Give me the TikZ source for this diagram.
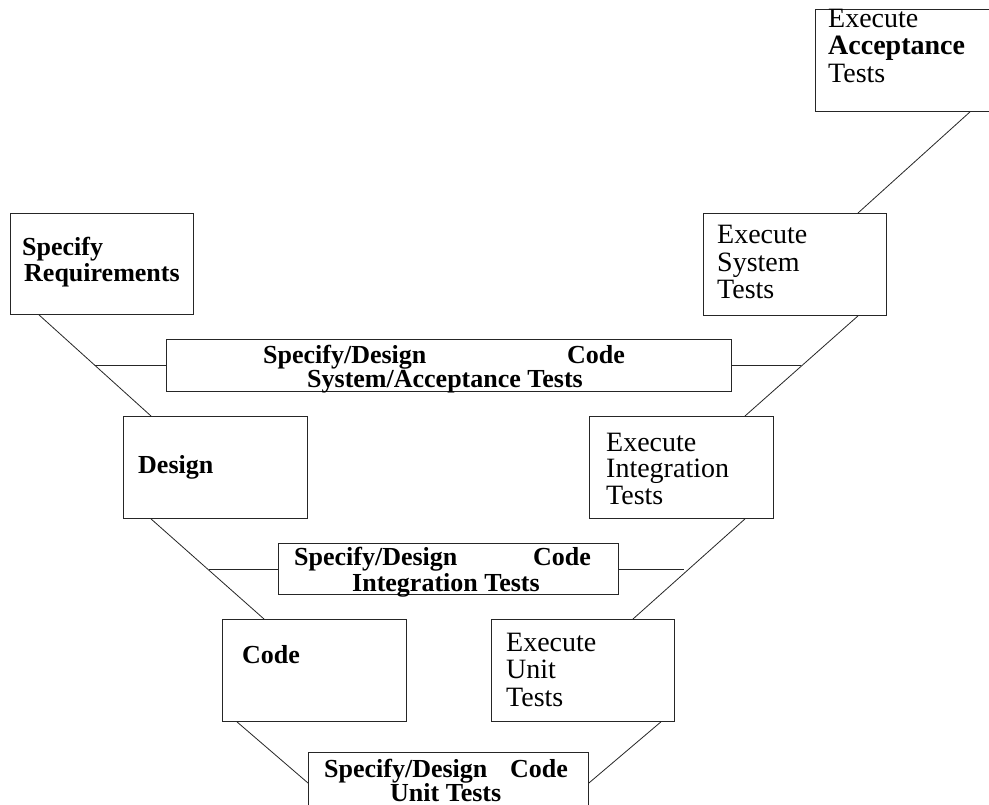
\documentclass[tikz,border=0pt]{standalone}
\usepackage{fontspec}
\setmainfont{Liberation Serif}
\begin{document}
\begin{tikzpicture}[x=1pt,y=-1pt,
  box/.style={draw=black!85,line width=0.9pt,inner sep=0pt,anchor=north west},
  conn/.style={draw=black!85,line width=0.8pt},
  lbl/.style={anchor=base west,inner sep=0pt,font=\fontsize{28}{29}\selectfont},
  blbl/.style={anchor=base west,inner sep=0pt,font=\fontsize{26}{27}\selectfont\bfseries},
  bxl/.style={anchor=base west,inner sep=0pt,font=\fontsize{28}{29}\selectfont\bfseries}]
\useasboundingbox (0,0) rectangle (989,805);
\clip (0,0) rectangle (989,805);
\fill[white] (0,0) rectangle (989,805);
% boxes
\node[box,minimum width=183pt,minimum height=101pt] (req) at (10,213) {};
\node[box,minimum width=565pt,minimum height=52pt] (sysacc) at (166,339) {};
\node[box,minimum width=184pt,minimum height=102pt] (design) at (123,416) {};
\node[box,minimum width=340pt,minimum height=51pt] (inttest) at (278,543) {};
\node[box,minimum width=184pt,minimum height=102pt] (code) at (222,619) {};
\node[box,minimum width=280pt,minimum height=80pt] (unittest) at (308,752) {};
\node[box,minimum width=183pt,minimum height=102pt] (exunit) at (491,619) {};
\node[box,minimum width=184pt,minimum height=102pt] (exint) at (589,416) {};
\node[box,minimum width=183pt,minimum height=102pt] (exsys) at (703,213) {};
\node[box,minimum width=190pt,minimum height=102pt] (exacc) at (815,9) {};
% texts
\node[blbl] (t1) at (22,256) {Specify};
\node[blbl] (t2) at (24,282) {Requirements};
\node[blbl] (t3) at (263,363) {Specify/Design};
\node[blbl] (t4) at (567,363) {Code};
\node[blbl] (t5) at (307,388) {System/Acceptance Tests};
\node[blbl] (t6) at (138,473) {Design};
\node[lbl] (t7) at (606,451) {Execute};
\node[lbl] (t8) at (606,477) {Integration};
\node[lbl] (t9) at (606,504) {Tests};
\node[blbl] (t10) at (294,565) {Specify/Design};
\node[blbl] (t11) at (533,565) {Code};
\node[blbl] (t12) at (352,591) {Integration Tests};
\node[blbl] (t13) at (242,663) {Code};
\node[lbl] (t14) at (506,651) {Execute};
\node[lbl] (t15) at (506,678) {Unit};
\node[lbl] (t16) at (506,706) {Tests};
\node[blbl] (t17) at (324,777) {Specify/Design};
\node[blbl] (t18) at (510,777) {Code};
\node[blbl] (t19) at (390,801) {Unit Tests};
\node[lbl] (t20) at (717,244) {Execute};
\node[lbl] (t21) at (717,272) {System};
\node[lbl] (t22) at (717,299) {Tests};
\node[lbl] (t23) at (828,28) {Execute};
\node[bxl] (t24) at (828,55) {Acceptance};
\node[lbl] (t25) at (828,83) {Tests};
% connector points
\coordinate (h1) at (95,364);
\coordinate (h2) at (209,569);
\coordinate (h3) at (684,569);
\coordinate (h4) at (801,364);
% connectors
\draw[conn] ([xshift=29pt]req.south west) -- ([xshift=28pt]design.north west);
\draw[conn] (sysacc.west) -- (sysacc.west -| h1);
\draw[conn] ([xshift=28pt]design.south west) -- ([xshift=42pt]code.north west);
\draw[conn] (inttest.west) -- (inttest.west -| h2);
\draw[conn] ([xshift=15pt]code.south west) -- ([yshift=-31pt]unittest.north west);
\draw[conn] ([xshift=-14pt]exunit.south east) -- ([yshift=-31pt]unittest.north east);
\draw[conn] ([xshift=142pt]exunit.north west) -- ([xshift=156pt]exint.south west);
\draw[conn] (inttest.east) -- (inttest.east -| h3);
\draw[conn] ([xshift=156pt]exint.north west) -- ([xshift=155pt]exsys.south west);
\draw[conn] (sysacc.east) -- (sysacc.east -| h4);
\draw[conn] ([xshift=155pt]exsys.north west) -- ([xshift=155pt]exacc.south west);
\end{tikzpicture}
\end{document}
